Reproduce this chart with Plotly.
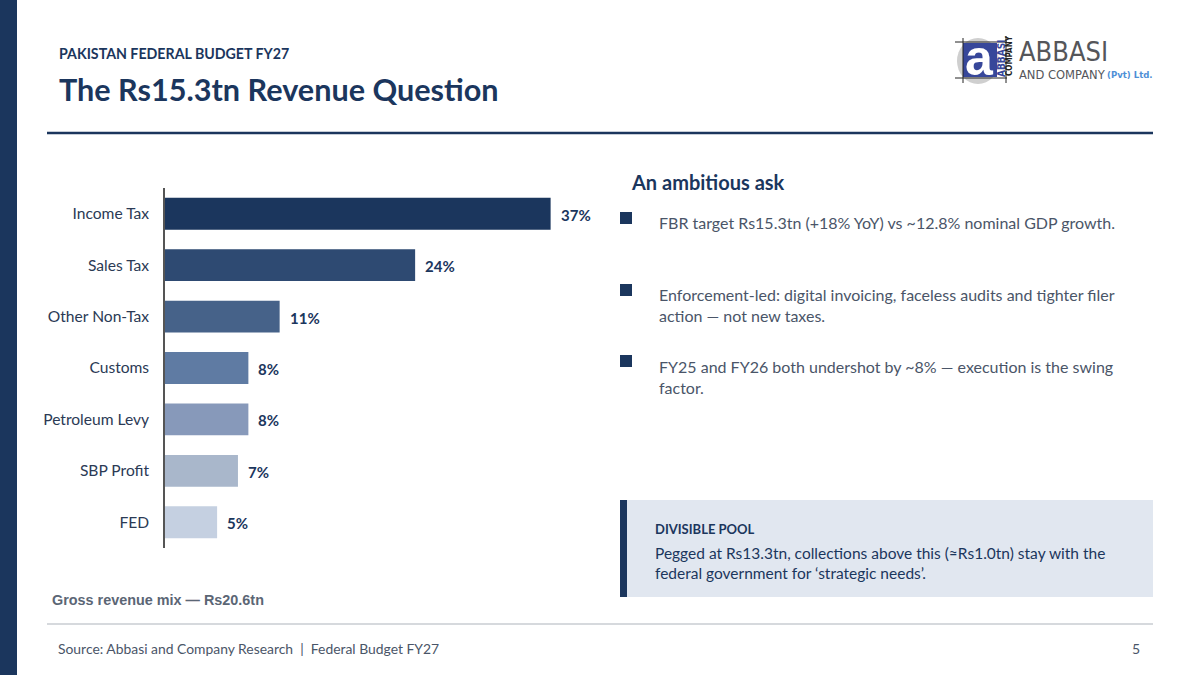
import plotly.graph_objects as go

categories = ['Income Tax', 'Sales Tax', 'Other Non-Tax', 'Customs', 'Petroleum Levy', 'SBP Profit', 'FED']
shares = [37, 24, 11, 8, 8, 7, 5]
share_labels = ['37%', '24%', '11%', '8%', '8%', '7%', '5%']
bar_colors = ['#1B365D', '#2E4A72', '#466289', '#5F7BA3', '#8799BA', '#A9B7CB', '#C5D0E1']

bullets = [
    ('FBR target Rs15.3tn (+18% YoY) vs ~12.8% nominal GDP growth.', 222, 218),
    ('Enforcement-led: digital invoicing, faceless audits and tighter filer<br>action — not new taxes.', 305, 290),
    ('FY25 and FY26 both undershot by ~8% — execution is the swing<br>factor.', 377, 361),
]

NAVY = '#1B365D'
GREY = '#4A5568'
CONDENSED = 'DejaVu Sans Condensed'
W, H = 1200, 675


def px(x):
    return x / W


def py(y):
    return 1 - y / H


fig = go.Figure()
fig.add_trace(go.Bar(
    x=shares, y=categories, orientation='h',
    marker=dict(color=bar_colors, line=dict(width=0)),
    hoverinfo='skip'))

shapes = []


def rect(x0, y0, x1, y1, color, kind='rect'):
    shapes.append(dict(type=kind, xref='paper', yref='paper', x0=px(x0), x1=px(x1),
                       y0=py(y0), y1=py(y1), fillcolor=color, line=dict(width=0), layer='below'))


def line(x0, y0, x1, y1, color, width):
    shapes.append(dict(type='line', xref='paper', yref='paper', x0=px(x0), x1=px(x1),
                       y0=py(y0), y1=py(y1), line=dict(color=color, width=width)))


annotations = []


def label(x, y, text, size, color, bold=False, family='Lato', anchor='left', angle=0):
    annotations.append(dict(
        xref='paper', yref='paper', x=px(x), y=py(y), text=text, showarrow=False,
        xanchor=anchor, yanchor='middle', align=anchor, textangle=angle,
        borderpad=0, borderwidth=0,
        font=dict(family=family, size=size, color=color, weight='bold' if bold else 'normal')))


# value labels sit a bit off the bar ends
for cat, val, txt in zip(categories, shares, share_labels):
    annotations.append(dict(
        x=val, y=cat, xref='x', yref='y', text=txt, showarrow=False,
        xanchor='left', xshift=9, yshift=-1, borderpad=0,
        font=dict(family='Lato', size=15, color=NAVY, weight='bold')))

# slide furniture
rect(0, 0, 17, 675, NAVY)
line(47, 133, 1153, 133, NAVY, 2.5)
line(47, 624, 1153, 624, '#C9CDD2', 1.5)
label(59, 53, 'PAKISTAN FEDERAL BUDGET FY27', 14.2, NAVY, True)
label(59, 89, 'The Rs15.3tn Revenue Question', 30.6, NAVY, True)
label(52, 600, 'Gross revenue mix — Rs20.6tn', 14.4, '#5B6675', True, 'Liberation Sans')
label(58, 648, 'Source: Abbasi and Company Research  |  Federal Budget FY27', 13.9, GREY)
label(1140, 648, '5', 14, GREY, anchor='right')

# right column
label(631, 182, 'An ambitious ask', 20, NAVY, True)
for text, y, marker_y in bullets:
    rect(620, marker_y - 6, 632, marker_y + 6, NAVY)
    label(659, y, text, 16, GREY)

# callout
rect(620, 500, 1153, 597, '#E1E7F0')
rect(620, 500, 627, 597, NAVY)
label(655, 528.5, 'DIVISIBLE POOL', 13, NAVY, True)
label(655, 562.5, 'Pegged at Rs13.3tn, collections above this (≈Rs1.0tn) stay with the<br>federal government for ‘strategic needs’.', 15.5, NAVY)

# logo
rect(957, 38, 999, 84, '#CFCFCF', 'circle')
rect(963, 43, 997, 77, '#37479A')
line(955, 42, 1007, 42, '#222222', 1)
line(955, 78, 1007, 78, '#222222', 1)
line(963, 38, 963, 83, '#222222', 1)
line(1006, 36, 1006, 83, '#222222', 1)
label(979, 58, 'a', 50, 'white', True, 'Liberation Sans', anchor='center')
label(1001, 58, 'ABBASI', 10, '#37479A', True, CONDENSED, anchor='center', angle=-90)
label(1010, 56, 'COMPANY', 8, '#222222', True, CONDENSED, anchor='center', angle=-90)
label(1019, 52, 'ABBASI', 27, '#55565A', False, CONDENSED)
label(1019, 74, 'AND COMPANY', 12.8, '#55565A', False, CONDENSED)
label(1107, 74, '(Pvt) Ltd.', 9.5, '#4E8FD6', True, CONDENSED)

fig.update_layout(
    width=W, height=H, autosize=False,
    margin=dict(l=0, r=0, t=0, b=0),
    paper_bgcolor='white', plot_bgcolor='white',
    showlegend=False, bargap=0.38,
    shapes=shapes, annotations=annotations,
    font=dict(family='Lato', size=15.5, color=NAVY),
)
fig.update_xaxes(domain=[px(165), px(634)], range=[0, 45], visible=False)
fig.update_yaxes(domain=[py(548), py(188)], autorange='reversed', showgrid=False, zeroline=False,
                 showline=True, linecolor='#555555', linewidth=1.5, ticks='', ticklabelstandoff=11,
                 tickfont=dict(family='Lato', size=15.6, color='#2B3A55'))

fig.write_html("out.html", post_script="document.body.style.margin='0';",
               config=dict(displayModeBar=False))
